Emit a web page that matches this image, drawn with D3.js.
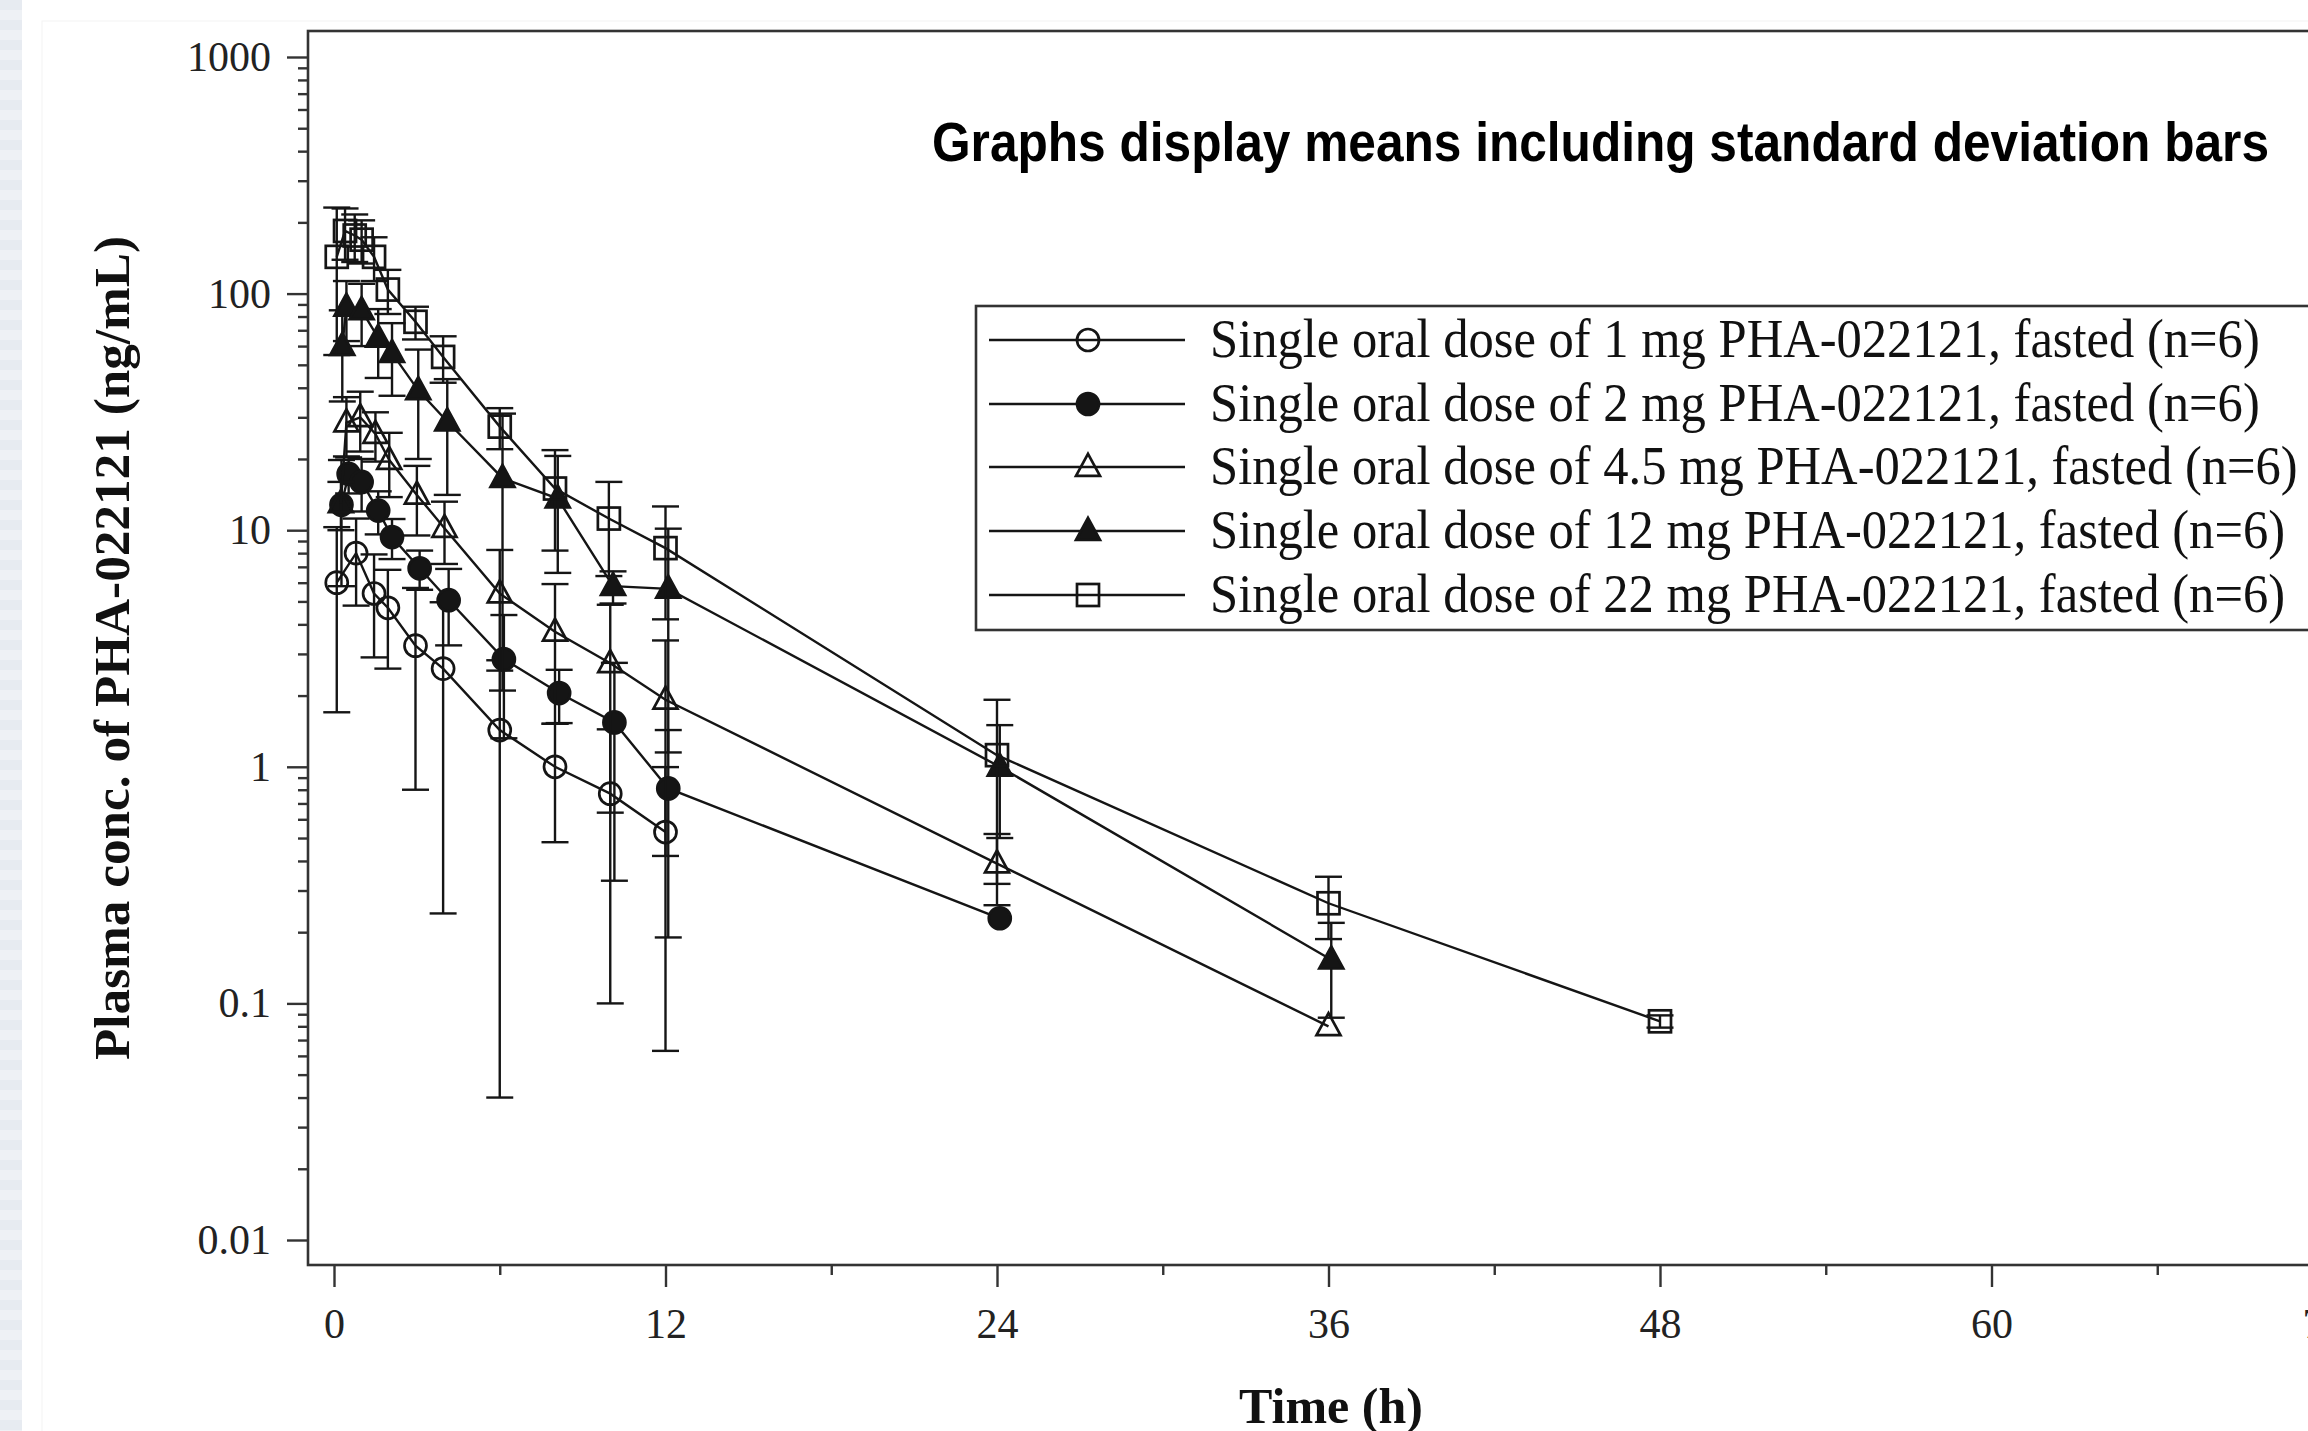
<!DOCTYPE html>
<html><head><meta charset="utf-8">
<script src="https://cdn.jsdelivr.net/npm/d3@7"></script>
<style>body{margin:0;background:#fff;} svg{display:block}</style>
</head><body>
<svg id="c" width="2308" height="1431"></svg>
<script>
// ---------- data ----------
const seriesLabels = [
  "Single oral dose of 1 mg PHA-022121, fasted (n=6)",
  "Single oral dose of 2 mg PHA-022121, fasted (n=6)",
  "Single oral dose of 4.5 mg PHA-022121, fasted (n=6)",
  "Single oral dose of 12 mg PHA-022121, fasted (n=6)",
  "Single oral dose of 22 mg PHA-022121, fasted (n=6)"
];
const seriesSymbols = ["circle-open","circle-filled","triangle-open","triangle-filled","square-open"];

const times1 = [0.1, 0.8, 1.45, 1.95, 2.95, 3.95, 6, 8, 10, 12];
const mean1  = [6.0, 8.0, 5.4, 4.7, 3.25, 2.6, 1.43, 1.0, 0.77, 0.53];
const sd1    = [4.3, 3.2, 2.5, 2.1, 2.45, 2.36, 1.39, 0.52, 0.67, 0.467];

const times2 = [0.27, 0.53, 1.0, 1.6, 2.1, 3.1, 4.15, 6.15, 8.15, 10.15, 12.1, 24.1];
const mean2  = [12.8, 17.3, 16.0, 12.1, 9.35, 6.9, 5.06, 2.85, 2.05, 1.54, 0.81, 0.229];
const sd2    = [7.0, 3.0, 4.0, 2.5, 1.8, 1.3, 1.8, 1.53, 0.52, 1.21, 0.62, 0];

const times3 = [0.25, 0.45, 0.95, 1.5, 2.0, 3.0, 4.0, 6.0, 8.0, 10.0, 12.0, 24.0, 36.0];
const mean3  = [13.0, 28.5, 30.0, 25.5, 19.8, 14.1, 10.2, 5.4, 3.72, 2.74, 1.92, 0.39, 0.080];
const sd3    = [3.0, 8.0, 8.5, 6.0, 6.0, 4.6, 3.0, 2.85, 2.2, 2.1, 1.5, 0.13, 0];

const times4 = [0.3, 0.45, 1.0, 1.6, 2.1, 3.05, 4.1, 6.1, 8.1, 10.1, 12.1, 24.1, 36.1];
const mean4  = [60, 88, 85, 65, 56, 39, 28.8, 16.6, 13.6, 5.8, 5.65, 1.0, 0.153];
const sd4    = [25, 25, 25, 21, 19, 19, 14.7, 14.5, 7.0, 0.9, 4.5, 0.5, 0.066];

const times5 = [0.1, 0.4, 0.75, 1.0, 1.45, 1.95, 2.95, 3.95, 6.0, 8.0, 9.95, 12.0, 24.0, 36.0, 48.0];
const mean5  = [143, 184, 176, 169, 143, 104, 76, 54, 27.4, 15.0, 11.2, 8.4, 1.12, 0.265, 0.084];
const sd5    = [88, 45, 40, 35, 30, 22, 12, 12, 5.4, 6.8, 4.8, 4.2, 0.8, 0.078, 0.005];

const xTickValues = [0, 12, 24, 36, 48, 60, 72];
const xMinorValues = [6, 18, 30, 42, 54, 66];
const yTickValues = [0.01, 0.1, 1, 10, 100, 1000];
const yTickLabels = ["0.01", "0.1", "1", "10", "100", "1000"];
const titleText = "Graphs display means including standard deviation bars";
const xTitle = "Time (h)";
const yTitle = "Plasma conc. of PHA-022121 (ng/mL)";

// ---------- layout ----------
const svg = d3.select("#c");
const W = 2308, H = 1431;
const frame = {left: 308, top: 31, bottom: 1265, right: 2420};
const x = d3.scaleLinear().domain([0, 72]).range([334, 2323]);
const y = d3.scaleLog().domain([0.01, 1000]).range([1240, 57]);
const ink = "#151515";

// left decorative strip
const defs = svg.append("defs");
const pat = defs.append("pattern").attr("id","stripes").attr("width",22).attr("height",20)
  .attr("patternUnits","userSpaceOnUse");
pat.append("rect").attr("width",22).attr("height",20).attr("fill","#e7ebf1");
pat.append("rect").attr("y",10).attr("width",22).attr("height",10).attr("fill","#eef1f5");
svg.append("rect").attr("x",0).attr("y",0).attr("width",22).attr("height",H).attr("fill","url(#stripes)");
svg.append("rect").attr("x",42).attr("y",21).attr("width",2400).attr("height",1500)
  .attr("fill","none").attr("stroke","#f5f5f5").attr("stroke-width",1.2);

// clip for plotting
defs.append("clipPath").attr("id","plotclip").append("rect")
  .attr("x",frame.left).attr("y",frame.top).attr("width",frame.right-frame.left).attr("height",frame.bottom-frame.top);

// frame
svg.append("rect").attr("x",frame.left).attr("y",frame.top)
  .attr("width",frame.right-frame.left).attr("height",frame.bottom-frame.top)
  .attr("fill","none").attr("stroke","#333").attr("stroke-width",2.6);

// y axis
const minorY = [];
for (let e = -2; e < 3; e++) for (let k = 2; k <= 9; k++) minorY.push(k * Math.pow(10, e));
const yAxisMinor = d3.axisLeft(y).tickValues(minorY).tickSize(10).tickFormat("");
const gym = svg.append("g").attr("transform",`translate(${frame.left},0)`).call(yAxisMinor);
const yAxis = d3.axisLeft(y).tickValues(yTickValues).tickSize(21).tickPadding(16)
  .tickFormat((d,i) => yTickLabels[i]);
const gy = svg.append("g").attr("transform",`translate(${frame.left},0)`).call(yAxis);
[gy, gym].forEach(g => {
  g.select(".domain").remove();
  g.selectAll("line").attr("stroke","#333").attr("stroke-width",2.4);
  g.selectAll("text").attr("font-family","'Liberation Serif','Times New Roman',serif")
    .attr("font-size",42).attr("fill","#222");
});

// x axis
const xAxisMinor = d3.axisBottom(x).tickValues(xMinorValues).tickSize(10).tickFormat("");
const gxm = svg.append("g").attr("transform",`translate(0,${frame.bottom})`).call(xAxisMinor);
const xAxis = d3.axisBottom(x).tickValues(xTickValues).tickSize(22).tickPadding(21).tickFormat(d3.format("d"));
const gx = svg.append("g").attr("transform",`translate(0,${frame.bottom})`).call(xAxis);
[gx, gxm].forEach(g => {
  g.select(".domain").remove();
  g.selectAll("line").attr("stroke","#333").attr("stroke-width",2.4);
  g.selectAll("text").attr("font-family","'Liberation Serif','Times New Roman',serif")
    .attr("font-size",42).attr("fill","#222");
});

// axis titles
svg.append("text").attr("x",1331).attr("y",1423).attr("text-anchor","middle")
  .attr("font-family","'Liberation Serif','Times New Roman',serif").attr("font-weight","bold")
  .attr("font-size",50).attr("fill","#111").text(xTitle);
svg.append("text").attr("transform","translate(129,648) rotate(-90)").attr("text-anchor","middle")
  .attr("font-family","'Liberation Serif','Times New Roman',serif").attr("font-weight","bold")
  .attr("font-size",51).attr("fill","#111").attr("textLength",824).attr("lengthAdjust","spacingAndGlyphs")
  .text(yTitle);

// ---------- series ----------
const series = [
  {t: times1, m: mean1, s: sd1},
  {t: times2, m: mean2, s: sd2},
  {t: times3, m: mean3, s: sd3},
  {t: times4, m: mean4, s: sd4},
  {t: times5, m: mean5, s: sd5}
].map((d, i) => ({
  label: seriesLabels[i], sym: seriesSymbols[i],
  pts: d.t.map((tt, j) => ({t: tt, m: d.m[j], sd: d.s[j]}))
}));

function drawMarker(g, sym, cx, cy) {
  const open = sym.endsWith("open");
  const fill = open ? "none" : ink;
  let el;
  if (sym.startsWith("circle")) {
    el = g.append("circle").attr("cx",cx).attr("cy",cy).attr("r",11);
  } else if (sym.startsWith("triangle")) {
    const s = 24, h = 22;
    el = g.append("path").attr("d", `M${cx},${cy-h*0.6}L${cx+s/2},${cy+h*0.4}L${cx-s/2},${cy+h*0.4}Z`);
  } else {
    el = g.append("rect").attr("x",cx-11).attr("y",cy-11).attr("width",22).attr("height",22);
  }
  el.attr("fill",fill).attr("stroke",ink).attr("stroke-width",2.7);
}

const plot = svg.append("g").attr("clip-path","url(#plotclip)");
const line = d3.line().x(d => x(d.t)).y(d => y(d.m));
const capW = 13.5;

series.forEach(sr => {
  const g = plot.append("g");
  sr.pts.filter(p => p.sd > 0).forEach(p => {
    const cx = x(p.t);
    const hi = p.m + p.sd, lo = p.m - p.sd;
    const yh = y(hi);
    const yl = lo > 0 ? y(lo) : frame.bottom;
    g.append("line").attr("x1",cx).attr("x2",cx).attr("y1",yh).attr("y2",yl)
      .attr("stroke",ink).attr("stroke-width",2.4);
    g.append("line").attr("x1",cx-capW).attr("x2",cx+capW).attr("y1",yh).attr("y2",yh)
      .attr("stroke",ink).attr("stroke-width",2.4);
    if (lo > 0) g.append("line").attr("x1",cx-capW).attr("x2",cx+capW).attr("y1",yl).attr("y2",yl)
      .attr("stroke",ink).attr("stroke-width",2.4);
  });
  g.append("path").datum(sr.pts).attr("d",line).attr("fill","none")
    .attr("stroke",ink).attr("stroke-width",2.4);
  sr.pts.forEach(p => drawMarker(g, sr.sym, x(p.t), y(p.m)));
});

// ---------- legend ----------
const leg = svg.append("g");
leg.append("rect").attr("x",976).attr("y",306).attr("width",1500).attr("height",324)
  .attr("fill","#fff").attr("stroke","#333").attr("stroke-width",2.6);
const rowY = [340, 404, 467, 531, 595];
series.forEach((sr, i) => {
  const ry = rowY[i];
  leg.append("line").attr("x1",989).attr("x2",1185).attr("y1",ry).attr("y2",ry)
    .attr("stroke",ink).attr("stroke-width",2.6);
  drawMarker(leg, sr.sym, 1088, ry);
  leg.append("text").attr("data-row", i)
    .attr("font-family","'Liberation Serif','Times New Roman',serif")
    .attr("font-size",55).attr("fill","#111").text(sr.label);
});
const firstLen = leg.select("text[data-row='0']").node().getComputedTextLength();
const sx = 1050 / firstLen;
leg.selectAll("text").each(function() {
  const i = +d3.select(this).attr("data-row");
  d3.select(this).attr("transform", `translate(1210,${rowY[i] + 17}) scale(${sx},1)`);
});

// title
svg.append("text").attr("x",932).attr("y",161)
  .attr("font-family","'Liberation Sans Narrow','Liberation Sans',Arial,sans-serif")
  .attr("font-weight","bold").attr("font-size",55).attr("fill","#000")
  .attr("textLength",1337).attr("lengthAdjust","spacingAndGlyphs").text(titleText);
</script>
</body></html>
